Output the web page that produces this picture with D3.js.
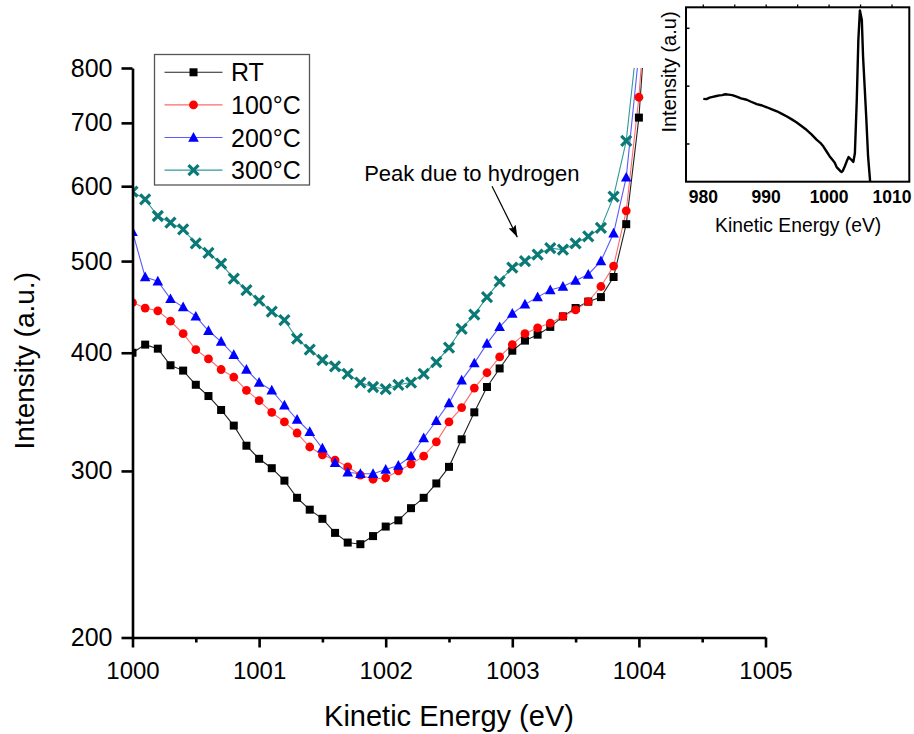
<!DOCTYPE html>
<html>
<head>
<meta charset="utf-8">
<script src="https://cdn.jsdelivr.net/npm/d3@7"></script>
<style>
  html, body { margin: 0; padding: 0; background: #fff; }
  svg { display: block; font-family: "Liberation Sans", Arial, sans-serif; }
</style>
</head>
<body>
<svg id="chart" width="914" height="734"></svg>
<script>
// Kinetic energy grid (eV), 0.1 eV steps from 1000.0 to 1004.1
const energy = d3.range(42).map(i => +(1000 + i * 0.1).toFixed(1));

// Intensity (a.u.) for each anneal temperature
const intensityRT = [400, 408, 404, 388, 383, 370, 360, 348, 335, 319,
  309, 302, 293, 281, 273, 267, 258, 252, 251, 256,
  262, 266, 274, 281, 291, 303, 324, 346, 368, 385,
  402, 412, 418, 426, 437, 446, 453, 458, 481, 547,
  709, 1100];
const intensity100 = [452, 446, 443, 432, 419, 403, 394, 384, 377, 365,
  356, 346, 338, 329, 318, 312, 308, 303, 297, 294,
  295, 300, 305, 311, 322, 338, 350, 367, 381, 396,
  408, 419, 425, 430, 437, 444, 453, 470, 494, 565,
  745, 1130];
const intensity200 = [537, 481, 476, 456, 447, 437, 422, 411, 398, 384,
  372, 365, 352, 340, 330, 317, 306, 299, 298, 298,
  301, 304, 311, 325, 339, 354, 374, 390, 409, 426,
  440, 450, 458, 466, 470, 477, 484, 500, 535, 613,
  830];
const intensity300 = [592, 581, 558, 549, 540, 522, 510, 497, 479, 466,
  454, 442, 433, 414, 403, 393, 387, 380, 372, 368,
  366, 370, 372, 380, 391, 405, 424, 439, 458, 476,
  492, 500, 508, 516, 514, 522, 531, 542, 585, 670,
  890];

const seriesNames = ["RT", "100°C", "200°C", "300°C"];
const seriesValues = [intensityRT, intensity100, intensity200, intensity300];
const lineColors = ["#222222", "#ff6a6a", "#5a5aff", "#2f9a96"];
const markerColors = ["#000000", "#ff0000", "#0000ff", "#0b7a76"];
const markerShapes = ["square", "circle", "triangle", "cross"];

const xTicks = [1000, 1001, 1002, 1003, 1004, 1005];
const xMinorTicks = [1000.5, 1001.5, 1002.5, 1003.5, 1004.5];
const yTicks = [200, 300, 400, 500, 600, 700, 800];

// Annotation: label and arrow, in data coordinates
const noteText = "Peak due to hydrogen";
const notePos = [1001.83, 608];
const arrowFrom = [1002.84, 600];
const arrowTo = [1003.04, 530];

// Inset: full spectrum (arbitrary units), a noisy measured trace
const insetEnergy = [980.0, 980.5, 981.0, 981.5, 982.1, 982.6, 983.0, 983.5, 984.0, 984.6,
  985.3, 986.0, 986.9, 987.6, 988.5, 989.2, 990.1, 990.9, 991.7, 992.5,
  993.3, 994.0, 994.8, 995.6, 996.4, 997.2, 998.0, 998.6, 999.1, 999.6,
  1000.1, 1000.5, 1000.9, 1001.2, 1001.5, 1001.8, 1002.0, 1002.2, 1002.5, 1002.8,
  1003.1, 1003.3, 1003.6, 1003.85, 1004.1, 1004.4, 1004.65, 1004.9, 1005.2, 1005.4,
  1005.9, 1006.2, 1006.6, 1006.9];
const insetCounts = [1.78, 1.775, 1.80, 1.815, 1.83, 1.84, 1.845, 1.86, 1.853, 1.845,
  1.82, 1.79, 1.765, 1.73, 1.69, 1.67, 1.635, 1.60, 1.565, 1.52,
  1.475, 1.43, 1.375, 1.31, 1.245, 1.165, 1.075, 1.02, 0.955, 0.87,
  0.785, 0.73, 0.675, 0.60, 0.565, 0.53, 0.515, 0.54, 0.615, 0.70,
  0.775, 0.75, 0.72, 0.69, 0.84, 1.76, 2.80, 3.31, 3.15, 2.51,
  1.47, 0.78, 0.25, -0.2];
const insetXTicks = [980, 990, 1000, 1010];
const insetXMinor = [980, 985, 990, 995, 1000, 1005, 1010];
const insetYTicks = [1, 2, 3];

const svg = d3.select("#chart");

// ---------- main plot ----------
const x = d3.scaleLinear().domain([1000, 1005]).range([132.5, 765.5]);
const y = d3.scaleLog().domain([200, 800]).range([637.5, 68]);

svg.append("defs").append("clipPath").attr("id", "plotClip")
  .append("rect")
  .attr("x", x(1000)).attr("y", y(800))
  .attr("width", x(1005) - x(1000)).attr("height", y(200) - y(800));

const plot = svg.append("g").attr("clip-path", "url(#plotClip)");

const line = d3.line().x((d, i) => x(energy[i])).y(d => y(d));

function drawMarker(g, shape, color) {
  if (shape === "square") {
    g.append("rect").attr("x", -4).attr("y", -4).attr("width", 8).attr("height", 8).attr("fill", color);
  } else if (shape === "circle") {
    g.append("circle").attr("r", 4.4).attr("fill", color);
  } else if (shape === "triangle") {
    g.append("path").attr("d", "M0,-5.5L5.3,4.2L-5.3,4.2Z").attr("fill", color);
  } else {
    g.append("path").attr("d", "M-5,-5L5,5M-5,5L5,-5")
      .attr("stroke", color).attr("stroke-width", 3.2).attr("fill", "none");
  }
}

seriesValues.forEach((vals, si) => {
  plot.append("path")
    .attr("d", line(vals))
    .attr("fill", "none")
    .attr("stroke", lineColors[si])
    .attr("stroke-width", 1.1);
});
seriesValues.forEach((vals, si) => {
  vals.forEach((v, i) => {
    const g = plot.append("g").attr("transform", `translate(${x(energy[i])},${y(v)})`);
    drawMarker(g, markerShapes[si], markerColors[si]);
  });
});

// axes
const xAxis = svg.append("g").attr("transform", `translate(0,${y(200)})`)
  .call(d3.axisBottom(x).tickValues(xTicks).tickFormat(d3.format("d"))
    .tickSize(10).tickSizeOuter(0).tickPadding(14));
svg.append("g").attr("transform", `translate(0,${y(200)})`)
  .call(d3.axisBottom(x).tickValues(xMinorTicks).tickFormat("").tickSize(5).tickSizeOuter(0))
  .select(".domain").remove();
const yAxis = svg.append("g").attr("transform", `translate(${x(1000)},0)`)
  .call(d3.axisLeft(y).tickValues(yTicks).tickFormat(d3.format("d"))
    .tickSize(11).tickSizeOuter(0).tickPadding(9));

svg.selectAll(".domain, .tick line").attr("stroke", "#000").attr("stroke-width", 2.6);
xAxis.selectAll("text").attr("font-size", 24).attr("fill", "#000");
yAxis.selectAll("text").attr("font-size", 25).attr("fill", "#000");
svg.selectAll("g.tick text").attr("font-family", "'Liberation Sans', Arial, sans-serif");

svg.append("text").attr("x", (x(1000) + x(1005)) / 2).attr("y", 726)
  .attr("text-anchor", "middle").attr("font-size", 29).text("Kinetic Energy (eV)");
svg.append("text").attr("transform", `translate(34,${(y(200) + y(800)) / 2 + 8}) rotate(-90)`)
  .attr("text-anchor", "middle").attr("font-size", 28).text("Intensity (a.u.)");

// legend
const legend = svg.append("g");
legend.append("rect").attr("x", 154.5).attr("y", 54.5).attr("width", 155).attr("height", 130.5)
  .attr("fill", "#fff").attr("stroke", "#555").attr("stroke-width", 1.3);
seriesNames.forEach((name, si) => {
  const cy = 72.3 + si * 32.6;
  legend.append("line").attr("x1", 164.5).attr("x2", 222.5).attr("y1", cy).attr("y2", cy)
    .attr("stroke", lineColors[si]).attr("stroke-width", 1.1);
  drawMarker(legend.append("g").attr("transform", `translate(193.5,${cy})`), markerShapes[si], markerColors[si]);
  legend.append("text").attr("x", 231).attr("y", cy + 9).attr("font-size", 25).text(name);
});

// annotation
svg.select("defs").append("marker").attr("id", "arrowHead")
  .attr("viewBox", "0 0 12 8").attr("refX", 12).attr("refY", 4)
  .attr("markerWidth", 12).attr("markerHeight", 8).attr("markerUnits", "userSpaceOnUse")
  .attr("orient", "auto")
  .append("path").attr("d", "M0,0L12,4L0,8L2,4Z").attr("fill", "#000");
svg.append("text").attr("x", x(notePos[0])).attr("y", y(notePos[1]))
  .attr("font-size", 22).text(noteText);
svg.append("line")
  .attr("x1", x(arrowFrom[0])).attr("y1", y(arrowFrom[1]))
  .attr("x2", x(arrowTo[0])).attr("y2", y(arrowTo[1]))
  .attr("stroke", "#000").attr("stroke-width", 1.2).attr("marker-end", "url(#arrowHead)");

// ---------- inset ----------
const ix = d3.scaleLinear().domain([977.25, 1012.75]).range([686, 909.3]);
const iy = d3.scaleLinear().domain([0.348, 3.363]).range([181.7, 7.3]);

svg.select("defs").append("clipPath").attr("id", "insetClip")
  .append("rect").attr("x", 686).attr("y", 7.3).attr("width", 909.3 - 686).attr("height", 181.7 - 7.3);

const inset = svg.append("g");
inset.append("g").attr("clip-path", "url(#insetClip)")
  .append("path")
  .attr("d", d3.line().x((d, i) => ix(insetEnergy[i])).y(d => iy(d))(insetCounts))
  .attr("fill", "none").attr("stroke", "#000").attr("stroke-width", 2.4)
  .attr("stroke-linejoin", "round");

inset.append("rect").attr("x", 686).attr("y", 7.3).attr("width", 909.3 - 686).attr("height", 181.7 - 7.3)
  .attr("fill", "none").attr("stroke", "#000").attr("stroke-width", 2);

insetXMinor.forEach(v => {
  inset.append("line").attr("x1", ix(v)).attr("x2", ix(v)).attr("y1", 7.3).attr("y2", 4.5)
    .attr("stroke", "#000").attr("stroke-width", 1.3);
});
insetYTicks.forEach(v => {
  inset.append("line").attr("x1", 686).attr("x2", 689.5).attr("y1", iy(v)).attr("y2", iy(v))
    .attr("stroke", "#000").attr("stroke-width", 1.5);
});
insetXTicks.forEach(v => {
  inset.append("text").attr("x", ix(v)).attr("y", 202.5).attr("text-anchor", "middle")
    .attr("font-size", 17.5).attr("font-weight", "bold").text(d3.format("d")(v));
});
inset.append("text").attr("x", (686 + 909.3) / 2 + 0.5).attr("y", 231.5).attr("text-anchor", "middle")
  .attr("font-size", 19.3).text("Kinetic Energy (eV)");
inset.append("text").attr("transform", `translate(676,72) rotate(-90)`).attr("text-anchor", "middle")
  .attr("font-size", 20).text("Intensity (a.u)");
</script>
</body>
</html>
